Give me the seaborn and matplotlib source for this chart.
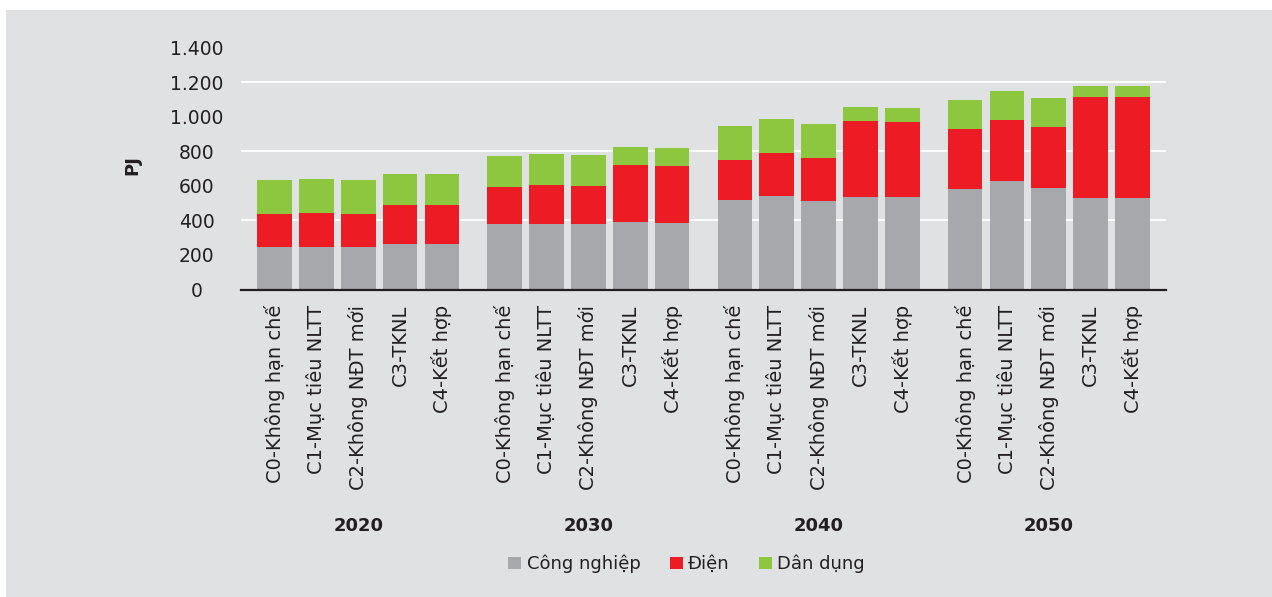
import numpy as np
import pandas as pd
import matplotlib
matplotlib.use("Agg")
import matplotlib.pyplot as plt
import matplotlib.transforms as mtransforms
from matplotlib.patches import Rectangle
import seaborn as sns

# ---- data (PJ) ----
years = ["2020", "2030", "2040", "2050"]
scenarios = ["C0-Không hạn chế", "C1-Mục tiêu NLTT", "C2-Không NĐT mới",
             "C3-TKNL", "C4-Kết hợp"]
series_names = ["Công nghiệp", "Điện", "Dân dụng"]

cong_nghiep = [245, 245, 245, 263, 263,
               379, 379, 379, 390, 384,
               518, 541, 512, 535, 535,
               581, 628, 587, 529, 529]
dien = [191, 197, 191, 226, 226,
        214, 226, 220, 331, 331,
        232, 249, 249, 441, 435,
        348, 353, 354, 586, 586]
dan_dung = [198, 197, 198, 179, 179,
            180, 179, 180, 104, 104,
            197, 197, 197, 81, 81,
            168, 169, 168, 64, 64]

colors = {"Công nghiệp": "#a7a8ab", "Điện": "#ed1c24", "Dân dụng": "#8dc63f"}
bg = "#e0e1e3"
ink = "#231f20"

sns.set_theme(style="white")
plt.rcParams["font.family"] = ["DejaVu Sans"]

# bar positions: five bars per year, half a slot gap between years
pos = [g * 5.5 + j for g in range(len(years)) for j in range(len(scenarios))]
df = pd.DataFrame({"pos": pos, "cn": cong_nghiep, "dien": dien, "dd": dan_dung})
df["lvl1"] = df["cn"]
df["lvl2"] = df["cn"] + df["dien"]
df["lvl3"] = df["cn"] + df["dien"] + df["dd"]

W, H = 1272, 597
fig = plt.figure(figsize=(W / 100, H / 100), dpi=100, facecolor="white")
fig.patches.append(Rectangle((6 / W, 0), 1 - 6 / W, 1 - 10 / H,
                             transform=fig.transFigure, facecolor=bg,
                             edgecolor="none", zorder=-10))

ax = fig.add_axes([241 / W, 1 - 289.5 / H, (1166 - 241) / W, (289.5 - 47.8) / H])
ax.set_facecolor(bg)

# white reference lines every 400 PJ, kept behind the bars
for yv in [400, 800, 1200]:
    ax.axhline(yv, color="white", linewidth=1.3, zorder=0.5)

# stacked bars: draw cumulative totals from the top layer down
for col, name in [("lvl3", "Dân dụng"), ("lvl2", "Điện"), ("lvl1", "Công nghiệp")]:
    sns.barplot(data=df, x="pos", y=col, native_scale=True, width=0.83,
                color=colors[name], saturation=1, errorbar=None,
                linewidth=0, edgecolor="none", label=name, ax=ax)
for p in ax.patches:
    p.set_zorder(2)
if ax.get_legend() is not None:
    ax.get_legend().remove()

ax.set_xlim(-0.8, 21.3)
ax.set_ylim(0, 1400)
yt = np.arange(0, 1401, 200)
ax.set_yticks(yt)
ax.set_yticklabels([f"{v:,.0f}".replace(",", ".") for v in yt], ha="center")
ax.grid(False)
ax.tick_params(axis="y", length=0, pad=32, labelsize=13.5, labelcolor=ink)

ax.set_xticks(pos)
ax.set_xticklabels(scenarios * len(years), rotation=90, va="top", ha="center")
ax.tick_params(axis="x", length=0, pad=11, labelsize=14, labelcolor=ink)
ax.set_xlabel("")
ax.set_ylabel("")

for s in ["left", "top", "right"]:
    ax.spines[s].set_visible(False)
ax.spines["bottom"].set_color(ink)
ax.spines["bottom"].set_linewidth(1.6)
ax.spines["bottom"].set_zorder(5)

# year labels under each group
trans = mtransforms.blended_transform_factory(ax.transData, fig.transFigure)
for g, yr in enumerate(years):
    ax.text(g * 5.5 + 2, 1 - 526 / H, yr, transform=trans, ha="center",
            va="center", fontsize=13, fontweight="bold", color=ink)

fig.text(132 / W, 1 - 165 / H, "PJ", rotation=90, ha="center", va="center",
         fontsize=13, fontweight="bold", color=ink)

handles, labels = ax.get_legend_handles_labels()
order = [labels.index(n) for n in series_names]
fig.legend([handles[i] for i in order], [labels[i] for i in order],
           loc="center", bbox_to_anchor=(686.5 / W, 1 - 564 / H), ncol=3,
           frameon=False, fontsize=13, handlelength=0.72, handleheight=0.72,
           handletextpad=0.3, columnspacing=1.6, labelcolor=ink)

fig.savefig("out.png", dpi=100, facecolor=fig.get_facecolor())
